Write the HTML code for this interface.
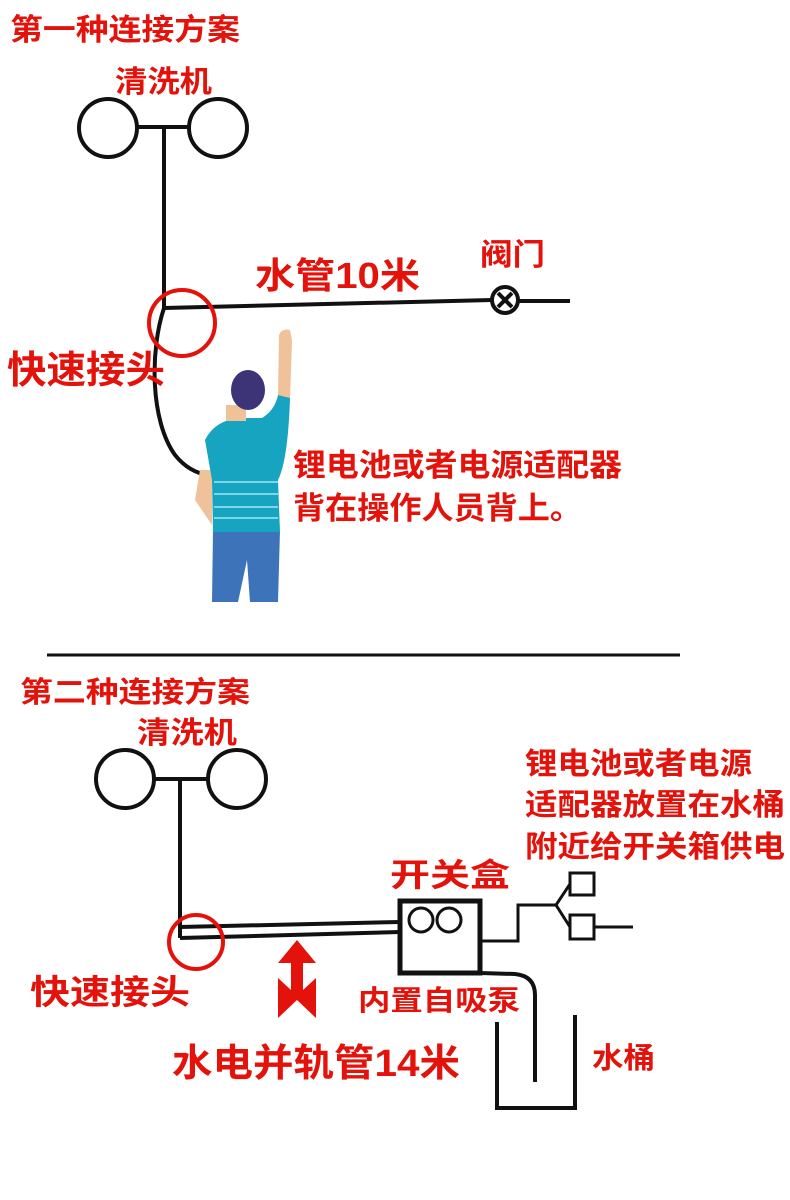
<!DOCTYPE html>
<html><head><meta charset="utf-8"><style>
html,body{margin:0;padding:0;background:#fff;}
svg{display:block;}
text{font-family:"Liberation Sans","Noto Sans CJK SC",sans-serif;fill:#e3120b;font-weight:bold;}
</style></head><body>
<svg width="790" height="1200" viewBox="0 0 790 1200" xmlns="http://www.w3.org/2000/svg">
<!-- top -->
<text x="10" y="40" font-size="30" textLength="230" lengthAdjust="spacingAndGlyphs">第一种连接方案</text>
<text x="115" y="92" font-size="30" textLength="97" lengthAdjust="spacingAndGlyphs">清洗机</text>
<g fill="none" stroke="#111" stroke-width="4">
<circle cx="108" cy="128" r="29"/>
<circle cx="218" cy="128" r="29"/>
<line x1="137" y1="127" x2="189" y2="127"/>
<line x1="164" y1="127" x2="164" y2="308"/>
<line x1="164" y1="308" x2="492" y2="300"/>
<line x1="518" y1="301" x2="570" y2="301"/>
<circle cx="505" cy="300" r="13"/>
<line x1="498" y1="293" x2="512" y2="307"/>
<line x1="512" y1="293" x2="498" y2="307"/>
<path d="M164 308 C150 350 150 420 175 455 C195 480 225 480 240 468"/>
</g>
<text x="255" y="288" font-size="36" textLength="165" lengthAdjust="spacingAndGlyphs">水管10米</text>
<text x="480" y="265" font-size="30" textLength="65" lengthAdjust="spacingAndGlyphs">阀门</text>
<circle cx="182" cy="323" r="33" fill="none" stroke="#e3120b" stroke-width="4"/>
<text x="7" y="383" font-size="38" textLength="158" lengthAdjust="spacingAndGlyphs">快速接头</text>
<!-- person -->
<path d="M279 335 Q282 328 290 330 L292 340 L290 400 L278 398 Z" fill="#f0c29a"/>
<path d="M200 470 L195 500 L212 525 L212 470 Z" fill="#f0c29a"/>
<path d="M213 530 L280 530 L278 602 L250 602 L247 560 L238 602 L212 602 Z" fill="#3d73b9"/>
<path d="M205 440 Q215 420 240 418 L262 418 Q275 410 278 395 L290 398 Q288 460 278 480 L280 532 L213 532 L212 480 Z" fill="#16a4c0"/>
<rect x="226" y="405" width="20" height="16" fill="#f0c29a"/>
<g stroke="#7fd6e6" stroke-width="2"><line x1="214" y1="482" x2="278" y2="482"/><line x1="214" y1="494" x2="278" y2="494"/><line x1="214" y1="507" x2="278" y2="507"/><line x1="214" y1="518" x2="278" y2="518"/></g>
<ellipse cx="248" cy="390" rx="17" ry="20" fill="#3c3476"/>
<text x="293" y="476" font-size="31" textLength="329" lengthAdjust="spacingAndGlyphs">锂电池或者电源适配器</text>
<text x="293" y="519" font-size="31" textLength="289" lengthAdjust="spacingAndGlyphs">背在操作人员背上。</text>
<line x1="47" y1="655" x2="680" y2="655" stroke="#111" stroke-width="3"/>
<!-- bottom -->
<text x="20" y="702" font-size="29" textLength="230" lengthAdjust="spacingAndGlyphs">第二种连接方案</text>
<text x="137" y="743" font-size="30" textLength="100" lengthAdjust="spacingAndGlyphs">清洗机</text>
<g fill="none" stroke="#111" stroke-width="4">
<circle cx="125" cy="779" r="29"/>
<circle cx="237" cy="779" r="29"/>
<line x1="154" y1="779" x2="208" y2="779"/>
<line x1="180" y1="779" x2="180" y2="938"/>
<line x1="180" y1="927" x2="400" y2="922"/>
<line x1="180" y1="938" x2="400" y2="932"/>
<rect x="400" y="901" width="80" height="72" stroke-width="5"/>
<circle cx="421" cy="920" r="12" stroke-width="3"/>
<circle cx="449" cy="920" r="12" stroke-width="3"/>
<polyline points="482,941 518,941 518,905 556,905" stroke-width="3"/>
<polyline points="570,884 556,905 570,927" stroke-width="3"/>
<rect x="570" y="873" width="24" height="22" stroke-width="3"/>
<rect x="570" y="915" width="24" height="24" stroke-width="3"/>
<line x1="594" y1="927" x2="633" y2="927" stroke-width="3"/>
<path d="M480 973 L515 974 Q535 976 535 995 L535 1082"/>
<polyline points="497,1022 497,1108 575,1108 575,1015"/>
</g>
<text x="390" y="886" font-size="32" textLength="120" lengthAdjust="spacingAndGlyphs">开关盒</text>
<text x="525" y="774" font-size="30" textLength="227" lengthAdjust="spacingAndGlyphs">锂电池或者电源</text>
<text x="525" y="815" font-size="30" textLength="260" lengthAdjust="spacingAndGlyphs">适配器放置在水桶</text>
<text x="525" y="857" font-size="30" textLength="260" lengthAdjust="spacingAndGlyphs">附近给开关箱供电</text>
<circle cx="196" cy="942" r="27" fill="none" stroke="#e3120b" stroke-width="4"/>
<text x="30" y="1004" font-size="34" textLength="160" lengthAdjust="spacingAndGlyphs">快速接头</text>
<path d="M297 940 L316 963 L303 963 L303 990 L316 978 L316 1018 L297 1000 L278 1018 L278 978 L291 990 L291 963 L278 963 Z" fill="#e3120b"/>
<text x="358" y="1010" font-size="28" textLength="162" lengthAdjust="spacingAndGlyphs">内置自吸泵</text>
<text x="172" y="1076" font-size="38" textLength="288" lengthAdjust="spacingAndGlyphs">水电并轨管14米</text>
<text x="592" y="1068" font-size="29" textLength="63" lengthAdjust="spacingAndGlyphs">水桶</text>
</svg>
</body></html>
